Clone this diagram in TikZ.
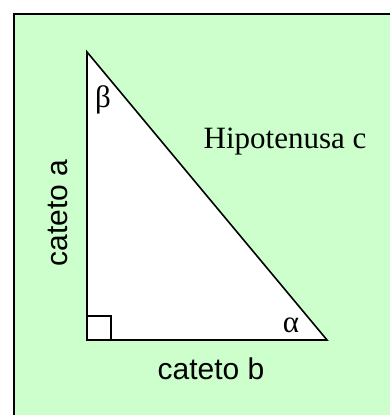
\documentclass[tikz,border=0pt]{standalone}
\usepackage{fontspec}
\setmainfont{Liberation Serif}
\setsansfont{Liberation Sans}
\begin{document}
\begin{tikzpicture}[x=1pt,y=-1pt,
  edge/.style={draw=black,line width=1.6pt,line join=miter},
  sanslabel/.style={font=\sffamily\fontsize{30}{30}\selectfont,inner sep=0pt},
  seriflabel/.style={font=\fontsize{31}{31}\selectfont,inner sep=0pt},
  greek/.style={font=\fontsize{31}{31}\selectfont,inner sep=0pt}]
\definecolor{bggreen}{HTML}{CCFFCC}
\useasboundingbox (0,0) rectangle (390,415);
\clip (0,0) rectangle (390,415);
\path[fill=bggreen,draw=black,line width=1.6pt] (14,14) rectangle (400,425);
\coordinate (A) at (87,52);
\coordinate (C) at (87,340);
\coordinate (B) at (327,340);
\path[edge,fill=white] (A) -- (C) -- (B) -- cycle;
\draw[edge] (C) rectangle ++(24,-24);
\node[greek] (beta) at (103,100) {β};
\node[greek] (alpha) at (291,325) {α};
\node[seriflabel,anchor=base] (hyp) at (285,148) {Hipotenusa c};
\node[sanslabel,anchor=base] (cb) at (211,379) {cateto b};
\node[sanslabel,anchor=base,rotate=90] (ca) at (67,213) {cateto a};
\end{tikzpicture}
\end{document}
